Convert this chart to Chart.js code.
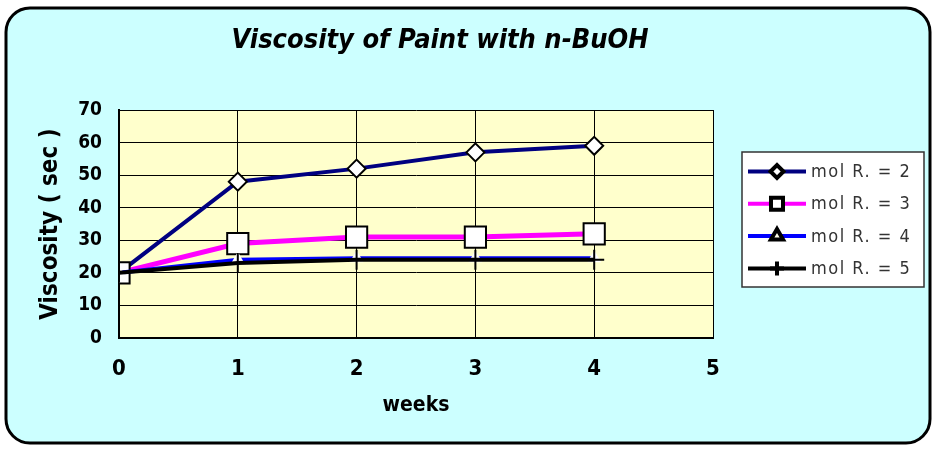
<!DOCTYPE html>
<html>
<head>
<meta charset="utf-8">
<title>Viscosity of Paint with n-BuOH</title>
<script src="https://cdn.jsdelivr.net/npm/chart.js@4.4.1/dist/chart.umd.min.js"></script>
<style>
  html, body { margin: 0; padding: 0; background: #fff; }
  #wrap { width: 936px; height: 450px; }
</style>
</head>
<body>
<div id="wrap"><canvas id="viscosityChart" width="936" height="450"></canvas></div>
<script>
// values
const chartTitle = 'Viscosity of Paint with n-BuOH';
const weeks = [0, 1, 2, 3, 4];
const seriesNames = ['mol R. = 2', 'mol R. = 3', 'mol R. = 4', 'mol R. = 5'];
const molR2 = [20, 48, 52, 57, 59];
const molR3 = [20, 29, 31, 31, 32];
const molR4 = [20, 24, 24.5, 24.5, 24.5];
const molR5 = [20, 23, 24, 24, 24];
const xRange = [0, 5];
const yRange = [0, 70];

const condensed = "'DejaVu Sans Condensed', 'DejaVu Sans', sans-serif";

const toPoints = values => weeks.map((w, i) => ({ x: w, y: values[i] }));

// marker look in the legend box (smaller than in the plot)
const legendMarks = [
  { radius: 6.5, fill: '#fff', stroke: '#000' },
  { radius: 8.5, fill: '#fff', stroke: '#000' },
  { radius: 7, fill: '#ffffe8', stroke: '#000' },
  { radius: 7, fill: '#fff', stroke: '#000' }
];

const excelFrame = {
  id: 'excelFrame',
  beforeDraw(chart) {
    const ctx = chart.ctx;
    const area = chart.chartArea;
    ctx.save();
    ctx.fillStyle = '#fff';
    ctx.fillRect(0, 0, chart.width, chart.height);
    ctx.beginPath();
    ctx.roundRect(6, 8, 924, 435, 24);
    ctx.fillStyle = '#ccffff';
    ctx.fill();
    ctx.lineWidth = 3;
    ctx.strokeStyle = '#000';
    ctx.stroke();

    ctx.fillStyle = '#ffffcc';
    ctx.fillRect(area.left, area.top, area.right - area.left, area.bottom - area.top);

    ctx.font = 'italic bold 27px ' + condensed;
    ctx.fillStyle = '#000';
    ctx.textAlign = 'center';
    ctx.textBaseline = 'alphabetic';
    ctx.fillText(chartTitle, 440, 48);
    ctx.restore();
  },
  afterDraw(chart) {
    const ctx = chart.ctx;
    const box = { x: 742, y: 152, w: 182, h: 135 };
    ctx.save();
    ctx.fillStyle = '#fff';
    ctx.fillRect(box.x, box.y, box.w, box.h);
    ctx.lineWidth = 1.5;
    ctx.strokeStyle = '#333';
    ctx.strokeRect(box.x, box.y, box.w, box.h);

    chart.data.datasets.forEach((ds, i) => {
      const y = 171.5 + i * 32.3;
      ctx.beginPath();
      ctx.moveTo(748, y);
      ctx.lineTo(806, y);
      ctx.lineWidth = 4;
      ctx.strokeStyle = ds.borderColor;
      ctx.stroke();

      const mark = legendMarks[i];
      ctx.fillStyle = mark.fill;
      ctx.strokeStyle = mark.stroke;
      Chart.helpers.drawPoint(ctx, {
        pointStyle: ds.pointStyle,
        radius: mark.radius,
        rotation: 0,
        borderWidth: 1.5
      }, 777, y);

      ctx.font = '18px ' + condensed;
      ctx.letterSpacing = '1.5px';
      ctx.fillStyle = '#333';
      ctx.textAlign = 'left';
      ctx.textBaseline = 'middle';
      ctx.fillText(ds.label, 811, y + 1);
      ctx.letterSpacing = '0px';
    });
    ctx.restore();
  }
};

new Chart(document.getElementById('viscosityChart'), {
  type: 'line',
  data: {
    datasets: [
      {
        label: seriesNames[0],
        data: toPoints(molR2),
        borderColor: '#000080',
        borderWidth: 4,
        pointStyle: 'rectRot',
        pointRadius: 9,
        pointBackgroundColor: '#fff',
        pointBorderColor: '#000',
        pointBorderWidth: 2,
        order: 3
      },
      {
        label: seriesNames[1],
        data: toPoints(molR3),
        borderColor: '#ff00ff',
        borderWidth: 5,
        pointStyle: 'rect',
        pointRadius: 15,
        pointBackgroundColor: '#fff',
        pointBorderColor: '#000',
        pointBorderWidth: 2,
        order: 2
      },
      {
        label: seriesNames[2],
        data: toPoints(molR4),
        borderColor: '#0000ff',
        borderWidth: 4,
        pointStyle: 'triangle',
        pointRadius: 8,
        pointBackgroundColor: '#fff',
        pointBorderColor: 'rgba(255,255,255,0)',
        pointBorderWidth: 1,
        order: 1
      },
      {
        label: seriesNames[3],
        data: toPoints(molR5),
        borderColor: '#000',
        borderWidth: 4,
        pointStyle: 'cross',
        pointRadius: 10,
        pointBackgroundColor: '#fff',
        pointBorderColor: '#000',
        pointBorderWidth: 2,
        order: 0
      }
    ]
  },
  options: {
    responsive: false,
    animation: false,
    layout: {
      padding: { top: 110, right: 223, bottom: 0, left: 0 }
    },
    elements: {
      line: { tension: 0 }
    },
    plugins: {
      legend: { display: false },
      title: { display: false },
      tooltip: { enabled: false }
    },
    scales: {
      x: {
        type: 'linear',
        min: xRange[0],
        max: xRange[1],
        afterFit(scale) { scale.height = 112; },
        grid: { color: '#000', lineWidth: 1, drawTicks: false },
        border: { color: '#000', width: 2 },
        ticks: {
          stepSize: 1,
          padding: 18,
          color: '#000',
          font: { family: condensed, size: 22, weight: 'bold' }
        },
        title: {
          display: true,
          text: 'weeks',
          color: '#000',
          font: { family: condensed, size: 21, weight: 'bold' },
          padding: { top: 0, bottom: 32 }
        }
      },
      y: {
        min: yRange[0],
        max: yRange[1],
        afterFit(scale) { scale.width = 119; },
        grid: { color: '#000', lineWidth: 1, drawTicks: false },
        border: { color: '#000', width: 2 },
        ticks: {
          stepSize: 10,
          padding: 17,
          color: '#000',
          font: { family: condensed, size: 19, weight: 'bold' }
        },
        title: {
          display: true,
          text: 'Viscosity ( sec )',
          color: '#000',
          font: { family: condensed, size: 24, weight: 'bold' },
          padding: { top: 36, bottom: 0 }
        }
      }
    }
  },
  plugins: [excelFrame]
});
</script>
</body>
</html>
